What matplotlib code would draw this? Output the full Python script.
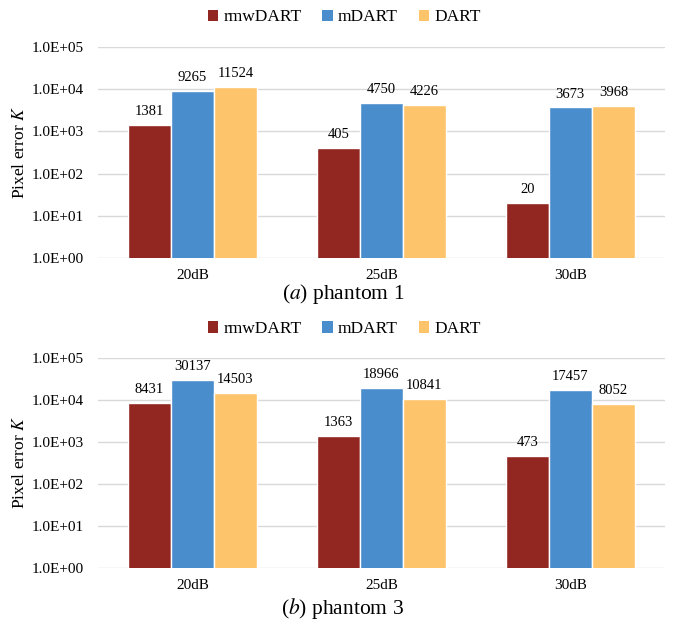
import matplotlib.pyplot as plt
import numpy as np
from matplotlib.ticker import FuncFormatter, LogLocator, NullLocator
from matplotlib.patches import Patch

plt.rcParams['font.family'] = ['Liberation Serif', 'DejaVu Serif']
plt.rcParams['mathtext.fontset'] = 'stix'

noiseLevels = ['20dB', '25dB', '30dB']
methods = ['rmwDART', 'mDART', 'DART']
colours = ['#922620', '#4a8dcd', '#fdc46b']

# pixel errors per method, one list per phantom
phantom1 = {
    'rmwDART': [1381, 405, 20],
    'mDART': [9265, 4750, 3673],
    'DART': [11524, 4226, 3968],
}
phantom3 = {
    'rmwDART': [8431, 1363, 473],
    'mDART': [30137, 18966, 17457],
    'DART': [14503, 10841, 8052],
}


def drawPanel(ax, data):
    x = np.arange(len(noiseLevels))
    barWidth = 0.228
    for i, name in enumerate(methods):
        vals = data[name]
        pos = x + (i - 1) * barWidth
        ax.bar(pos, vals, width=barWidth, color=colours[i], edgecolor='white',
               linewidth=1, zorder=3)
        for p, v in zip(pos, vals):
            ax.annotate(str(v), (p, v), xytext=(0, 5), textcoords='offset points',
                        ha='center', va='bottom', fontsize=10.5)
    ax.set_yscale('log')
    ax.set_ylim(1, 1e5)
    ax.set_xlim(-0.5, 2.5)
    ax.yaxis.set_major_locator(LogLocator(base=10, numticks=10))
    ax.yaxis.set_minor_locator(NullLocator())
    ax.yaxis.set_major_formatter(FuncFormatter(lambda v, p: '%.1E' % v))
    ax.set_xticks(x)
    ax.set_xticklabels(noiseLevels, fontsize=11)
    ax.tick_params(axis='both', length=0, labelsize=11)
    ax.tick_params(axis='x', pad=8)
    ax.tick_params(axis='y', pad=10)
    ax.grid(axis='y', color='#d9d9d9', linewidth=1, zorder=0)
    for s in ax.spines.values():
        s.set_visible(False)
    ax.set_ylabel('Pixel error $K$', fontsize=12.5, labelpad=3)


fig = plt.figure(figsize=(6.75, 6.21), dpi=100)
axTop = fig.add_axes([0.145, 0.5845, 0.84, 0.340])
axBot = fig.add_axes([0.145, 0.0853, 0.84, 0.338])

drawPanel(axTop, phantom1)
drawPanel(axBot, phantom3)

handles = [Patch(facecolor=c, edgecolor='none') for c in colours]
for yy in [0.972, 0.470]:
    fig.legend(handles, methods, loc='center', bbox_to_anchor=(0.51, yy), ncol=3,
               frameon=False, fontsize=12.5, handlelength=0.6, handleheight=0.6,
               handletextpad=0.3, columnspacing=1.2)

fig.text(0.508, 0.526, r'($\mathit{a}$) phantom 1', ha='center', va='center', fontsize=15.5)
fig.text(0.508, 0.020, r'($\mathit{b}$) phantom 3', ha='center', va='center', fontsize=15.5)

fig.savefig('out.png', dpi=100)
